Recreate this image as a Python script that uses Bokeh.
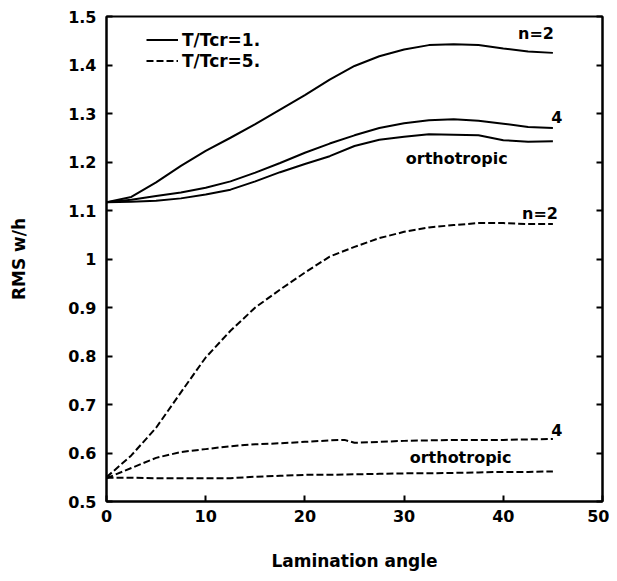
from bokeh.plotting import figure
from bokeh.models import (ColumnDataSource, LinearAxis, Range1d, Legend, LegendItem,
                          CustomJSTickFormatter, FixedTicker)
from bokeh.embed import file_html
from bokeh.resources import INLINE
from bokeh.core.properties import value

# ---------------- data ----------------
angle = [0, 2.5, 5, 7.5, 10, 12.5, 15, 17.5, 20, 22.5, 25, 27.5, 30, 32.5, 35, 37.5, 40, 42.5, 45]

t1_n2 = [1.117, 1.128, 1.158, 1.192, 1.223, 1.250, 1.278, 1.308, 1.338, 1.370, 1.398, 1.418,
         1.432, 1.441, 1.443, 1.441, 1.434, 1.428, 1.425]
t1_n4 = [1.117, 1.122, 1.130, 1.137, 1.147, 1.160, 1.178, 1.198, 1.219, 1.238, 1.255, 1.270,
         1.280, 1.286, 1.288, 1.285, 1.279, 1.272, 1.270]
t1_ortho = [1.117, 1.118, 1.120, 1.125, 1.133, 1.143, 1.160, 1.179, 1.196, 1.212, 1.233, 1.246,
            1.252, 1.257, 1.256, 1.255, 1.245, 1.242, 1.243]

t5_n2 = [0.550, 0.595, 0.652, 0.725, 0.797, 0.852, 0.900, 0.937, 0.972, 1.005, 1.025, 1.043,
         1.056, 1.065, 1.070, 1.074, 1.074, 1.072, 1.072]
angle_t5_n4 = [0, 2.5, 5, 7.5, 10, 12.5, 15, 17.5, 20, 22.5, 24, 25, 27.5, 30, 32.5, 35, 37.5, 40, 42.5, 45]
t5_n4 = [0.548, 0.569, 0.590, 0.602, 0.608, 0.614, 0.618, 0.620, 0.623, 0.626, 0.627, 0.621,
         0.623, 0.625, 0.626, 0.627, 0.627, 0.627, 0.628, 0.629]
t5_ortho = [0.549, 0.549, 0.548, 0.548, 0.548, 0.548, 0.551, 0.553, 0.555, 0.555, 0.556, 0.557,
            0.558, 0.558, 0.559, 0.560, 0.561, 0.561, 0.562]

x_ticks = [0, 10, 20, 30, 40, 50]
y_ticks = [0.5, 0.6, 0.7, 0.8, 0.9, 1.0, 1.1, 1.2, 1.3, 1.4, 1.5]

legend_labels = ["T/Tcr=1.", "T/Tcr=5."]
curve_labels = ["n=2", "4", "orthotropic", "n=2", "4", "orthotropic"]
curve_label_x = [43.3, 45.4, 35.3, 43.7, 45.4, 35.7]
curve_label_y = [1.465, 1.292, 1.207, 1.094, 0.647, 0.591]

FONT = "DejaVu Sans"

p = figure(width=609, height=573, output_backend="svg", toolbar_location=None,
           x_range=Range1d(0, 50), y_range=Range1d(0.5, 1.5),
           min_border_left=106, min_border_right=7, min_border_top=16, min_border_bottom=72)
p.grid.visible = False
p.outline_line_color = "black"
p.outline_line_width = 2
p.background_fill_color = "white"
p.border_fill_color = "white"

solid = dict(line_color="black", line_width=2)
dashed = dict(line_color="black", line_width=2, line_dash="7 3")

r1 = p.line(angle, t1_n2, **solid)
p.line(angle, t1_n4, **solid)
p.line(angle, t1_ortho, **solid)
r2 = p.line(angle, t5_n2, **dashed)
p.line(angle_t5_n4, t5_n4, **dashed)
p.line(angle, t5_ortho, **dashed)

src = ColumnDataSource(dict(x=curve_label_x, y=curve_label_y, t=curve_labels))
p.text(x="x", y="y", text="t", source=src, text_align="center", text_baseline="middle",
       text_font=value(FONT), text_font_style="bold", text_font_size="16px", text_color="black")

# axes
xa = p.xaxis[0]
xa.ticker = FixedTicker(ticks=x_ticks)
xa.axis_label = "Lamination angle"
ya = p.yaxis[0]
ya.ticker = FixedTicker(ticks=y_ticks)
ya.axis_label = "RMS w/h"
ya.formatter = CustomJSTickFormatter(code="return Math.abs(tick-1)<1e-9 ? '1' : tick.toFixed(1);")

for ax in (xa, ya):
    ax.axis_line_width = 2
    ax.major_tick_in = 6
    ax.major_tick_out = 0
    ax.major_tick_line_width = 2
    ax.minor_tick_in = 0
    ax.minor_tick_out = 0
    ax.major_label_text_font = FONT
    ax.major_label_text_font_style = "bold"
    ax.major_label_text_font_size = "16px"
    ax.major_label_text_color = "black"
    ax.axis_label_text_font = FONT
    ax.axis_label_text_font_style = "bold"
    ax.axis_label_text_font_size = "17px"
    ax.axis_label_text_color = "black"
xa.major_label_standoff = 8
xa.axis_label_standoff = 26
ya.major_label_standoff = 10
ya.axis_label_standoff = 36

ra = LinearAxis(ticker=FixedTicker(ticks=y_ticks),
                formatter=CustomJSTickFormatter(code="return '';"))
ra.axis_line_width = 2
ra.major_tick_in = 6
ra.major_tick_out = 0
ra.major_tick_line_width = 2
ra.minor_tick_in = 0
ra.minor_tick_out = 0
ra.major_label_standoff = 0
p.add_layout(ra, "right")

legend = Legend(items=[LegendItem(label=legend_labels[0], renderers=[r1]),
                       LegendItem(label=legend_labels[1], renderers=[r2])],
                location=(40, 430), border_line_color=None, background_fill_alpha=0,
                padding=0, margin=0, spacing=0, glyph_width=32, glyph_height=21,
                label_height=21, label_standoff=4,
                label_text_font=FONT, label_text_font_style="bold",
                label_text_font_size="17px", label_text_color="black")
p.add_layout(legend)

open("out.html", "w").write(file_html(p, INLINE))
